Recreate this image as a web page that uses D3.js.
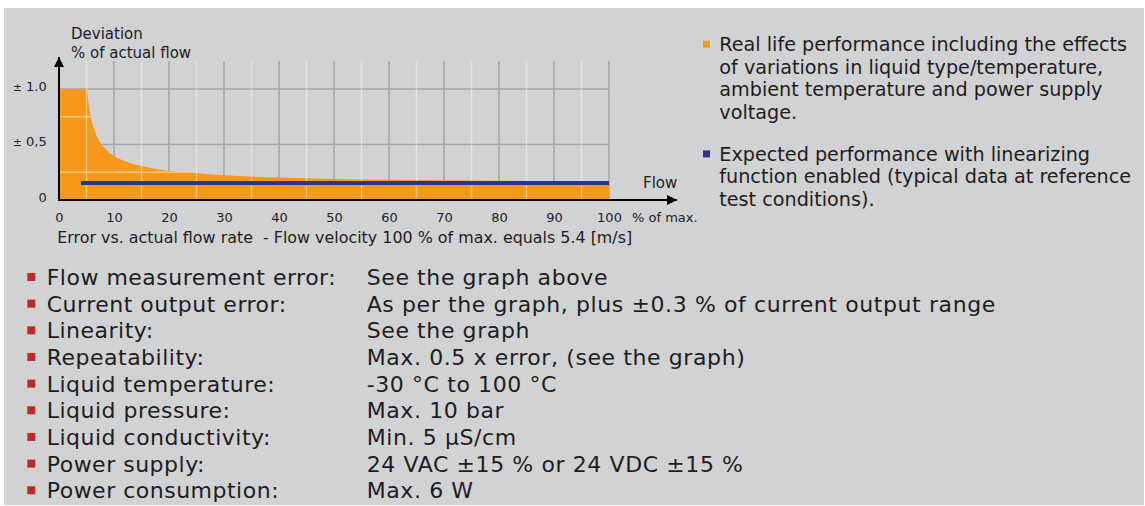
<!DOCTYPE html>
<html>
<head>
<meta charset="utf-8">
<script src="https://cdn.jsdelivr.net/npm/d3@7"></script>
<style>
  html, body { margin: 0; padding: 0; background: #ffffff; }
  svg { display: block; font-family: "DejaVu Sans", Verdana, sans-serif; }
  text { fill: #1f1c1d; }
</style>
</head>
<body>
<svg id="chart" width="1145" height="506"></svg>
<script>
// ---- data ----
const xTicks = [0, 10, 20, 30, 40, 50, 60, 70, 80, 90, 100];
const yTicks = [0, 0.5, 1.0];
const yTickLabels = ["0", "0,5", "1.0"];
// real life performance envelope (% deviation vs % of max flow)
const realFlow  = [0, 5.0, 5.3, 5.76, 6.3, 7.0, 7.76, 8.5, 10, 12, 15, 20, 25, 30, 40, 50, 60, 70, 80, 90, 100];
const realError = [1.0, 1.0, 0.9, 0.75, 0.65, 0.56, 0.5, 0.46, 0.396, 0.35, 0.306, 0.261, 0.24, 0.222, 0.203, 0.19, 0.183, 0.178, 0.174, 0.171, 0.168];
// expected performance with linearizing function
const linFlow  = [4, 100];
const linError = [0.153, 0.153];

const legendReal = ["Real life performance including the effects",
                    "of variations in liquid type/temperature,",
                    "ambient temperature and power supply",
                    "voltage."];
const legendLin = ["Expected performance with linearizing",
                   "function enabled (typical data at reference",
                   "test conditions)."];
const specLabels = ["Flow measurement error:", "Current output error:", "Linearity:",
                    "Repeatability:", "Liquid temperature:", "Liquid pressure:",
                    "Liquid conductivity:", "Power supply:", "Power consumption:"];
const specValues = ["See the graph above",
                    "As per the graph, plus \u00b10.3 % of current output range",
                    "See the graph",
                    "Max. 0.5 x error, (see the graph)",
                    "-30 \u00b0C to 100 \u00b0C",
                    "Max. 10 bar",
                    "Min. 5 \u00b5S/cm",
                    "24 VAC \u00b115 % or 24 VDC \u00b115 %",
                    "Max. 6 W"];

// ---- drawing ----
const svg = d3.select("#chart");
const C = { bg: "#d1d2d4", orange: "#f7981d", blue: "#2e3192", red: "#c1272d",
            gridDark: "#a3a4a6", text: "#1f1c1d" };

svg.append("rect").attr("x", 4).attr("y", 8).attr("width", 1140).attr("height", 497).attr("fill", C.bg);

const x = d3.scaleLinear().domain([0, 100]).range([59, 609]);
const y = d3.scaleLinear().domain([0, 1]).range([200, 89]);

const gridTop = 1.25;
const vGrid = d3.range(5, 101, 5);
const hDark = [0.5, 1.0];
const hLight = [0.25, 0.75];

const realData = realFlow.map((f, i) => [f, realError[i]]);
const area = d3.area().x(d => x(d[0])).y0(y(0)).y1(d => y(d[1])).curve(d3.curveMonotoneX);

const defs = svg.append("defs");
defs.append("clipPath").attr("id", "areaClip").append("path").datum(realData).attr("d", area);

const g = svg.append("g");
// dark grid (under the area)
g.selectAll(".vd").data(vGrid.filter(v => v % 10 === 0)).join("line")
  .attr("x1", d => x(d)).attr("x2", d => x(d))
  .attr("y1", y(0)).attr("y2", y(gridTop))
  .attr("stroke", C.gridDark).attr("stroke-width", 1.5);
g.selectAll(".hd").data(hDark).join("line")
  .attr("x1", x(0)).attr("x2", x(100))
  .attr("y1", d => y(d)).attr("y2", d => y(d))
  .attr("stroke", C.gridDark).attr("stroke-width", 1.5);

// orange area
g.append("path").datum(realData).attr("d", area).attr("fill", C.orange);

// light grid (over the area)
g.selectAll(".vl").data(vGrid.filter(v => v % 10 !== 0)).join("line")
  .attr("x1", d => x(d)).attr("x2", d => x(d))
  .attr("y1", y(0)).attr("y2", y(gridTop))
  .attr("stroke", "#ffffff").attr("stroke-opacity", 0.4).attr("stroke-width", 1.5);
g.append("g").attr("clip-path", "url(#areaClip)")
  .selectAll(".hl").data(hLight).join("line")
  .attr("x1", x(0)).attr("x2", x(100))
  .attr("y1", d => y(d)).attr("y2", d => y(d))
  .attr("stroke", "#ffffff").attr("stroke-opacity", 0.45).attr("stroke-width", 1.5);

// blue line
const linData = linFlow.map((f, i) => [f, linError[i]]);
g.append("path").datum(linData)
  .attr("d", d3.line().x(d => x(d[0])).y(d => y(d[1])))
  .attr("stroke", C.blue).attr("stroke-width", 4).attr("fill", "none");

// axes lines with arrows
defs.append("marker").attr("id", "arrow").attr("viewBox", "0 0 10 10")
  .attr("refX", 10).attr("refY", 5).attr("markerUnits", "userSpaceOnUse")
  .attr("markerWidth", 16).attr("markerHeight", 10).attr("orient", "auto")
  .append("path").attr("d", "M0,0 L10,5 L0,10 Z").attr("fill", "#000");
svg.append("line").attr("x1", x(0) - 1).attr("x2", 677).attr("y1", y(0)).attr("y2", y(0))
  .attr("stroke", "#000").attr("stroke-width", 2).attr("marker-end", "url(#arrow)");
svg.append("line").attr("x1", x(0)).attr("x2", x(0)).attr("y1", y(0) + 1).attr("y2", 57)
  .attr("stroke", "#000").attr("stroke-width", 2).attr("marker-end", "url(#arrow)");

// x axis tick labels
const xAxis = d3.axisBottom(x).tickValues(xTicks).tickSize(0).tickPadding(12.5).tickFormat(d3.format("d"));
const xa = svg.append("g").attr("transform", `translate(0,${y(0)})`).call(xAxis);
xa.select(".domain").remove();
xa.selectAll("text").attr("font-size", 13).attr("font-family", "DejaVu Sans").attr("fill", C.text);

svg.append("text").attr("x", 632).attr("y", 221.7).attr("font-size", 13).text("% of max.");
svg.append("text").attr("x", 643).attr("y", 188.3).attr("font-size", 15).text("Flow");

// y axis tick labels
const yAxis = d3.axisLeft(y).tickValues(yTicks).tickSize(0).tickPadding(12.3)
  .tickFormat((d, i) => yTickLabels[i]);
const ya = svg.append("g").attr("transform", `translate(${x(0)},0)`).call(yAxis);
ya.select(".domain").remove();
ya.selectAll("text").attr("font-size", 13).attr("font-family", "DejaVu Sans").attr("fill", C.text)
  .attr("dy", "0.08em")
  .each(function(d, i) {
    const t = d3.select(this);
    const lbl = yTickLabels[i];
    t.text(null);
    if (d !== 0) {
      t.append("tspan").attr("font-size", 10.5).text("\u00b1");
    }
    t.append("tspan").text((d !== 0 ? "\u00a0" : "") + lbl);
  });

// axis titles
svg.append("text").attr("x", 71).attr("y", 39).attr("font-size", 15).text("Deviation");
svg.append("text").attr("x", 71).attr("y", 58.3).attr("font-size", 15).text("% of actual flow");
svg.append("text").attr("x", 57.3).attr("y", 242.7).attr("font-size", 15.9)
  .style("white-space", "pre")
  .text("Error vs. actual flow rate  - Flow velocity 100 % of max. equals 5.4 [m/s]");

// legend
const leg = svg.append("g");
const legendBlocks = [
  { color: C.orange, lines: legendReal, y0: 51 },
  { color: C.blue, lines: legendLin, y0: 160.7 }
];
legendBlocks.forEach(b => {
  leg.append("rect").attr("x", 703).attr("y", b.y0 - 10.3).attr("width", 7).attr("height", 7).attr("fill", b.color);
  b.lines.forEach((ln, i) => {
    leg.append("text").attr("x", 719.3).attr("y", b.y0 + i * 22.7).attr("font-size", 19.2).text(ln);
  });
});

// specifications
const spec = svg.append("g");
const rowY = i => 285 + i * 26.66;
specLabels.forEach((lab, i) => {
  spec.append("rect").attr("x", 27.3).attr("y", rowY(i) - 12).attr("width", 8).attr("height", 8).attr("fill", C.red);
  spec.append("text").attr("x", 46.7).attr("y", rowY(i)).attr("font-size", 22)
    .attr("letter-spacing", 0.5).text(lab);
  spec.append("text").attr("x", 366.7).attr("y", rowY(i)).attr("font-size", 22)
    .attr("letter-spacing", 0.6).text(specValues[i]);
});
</script>
</body>
</html>
